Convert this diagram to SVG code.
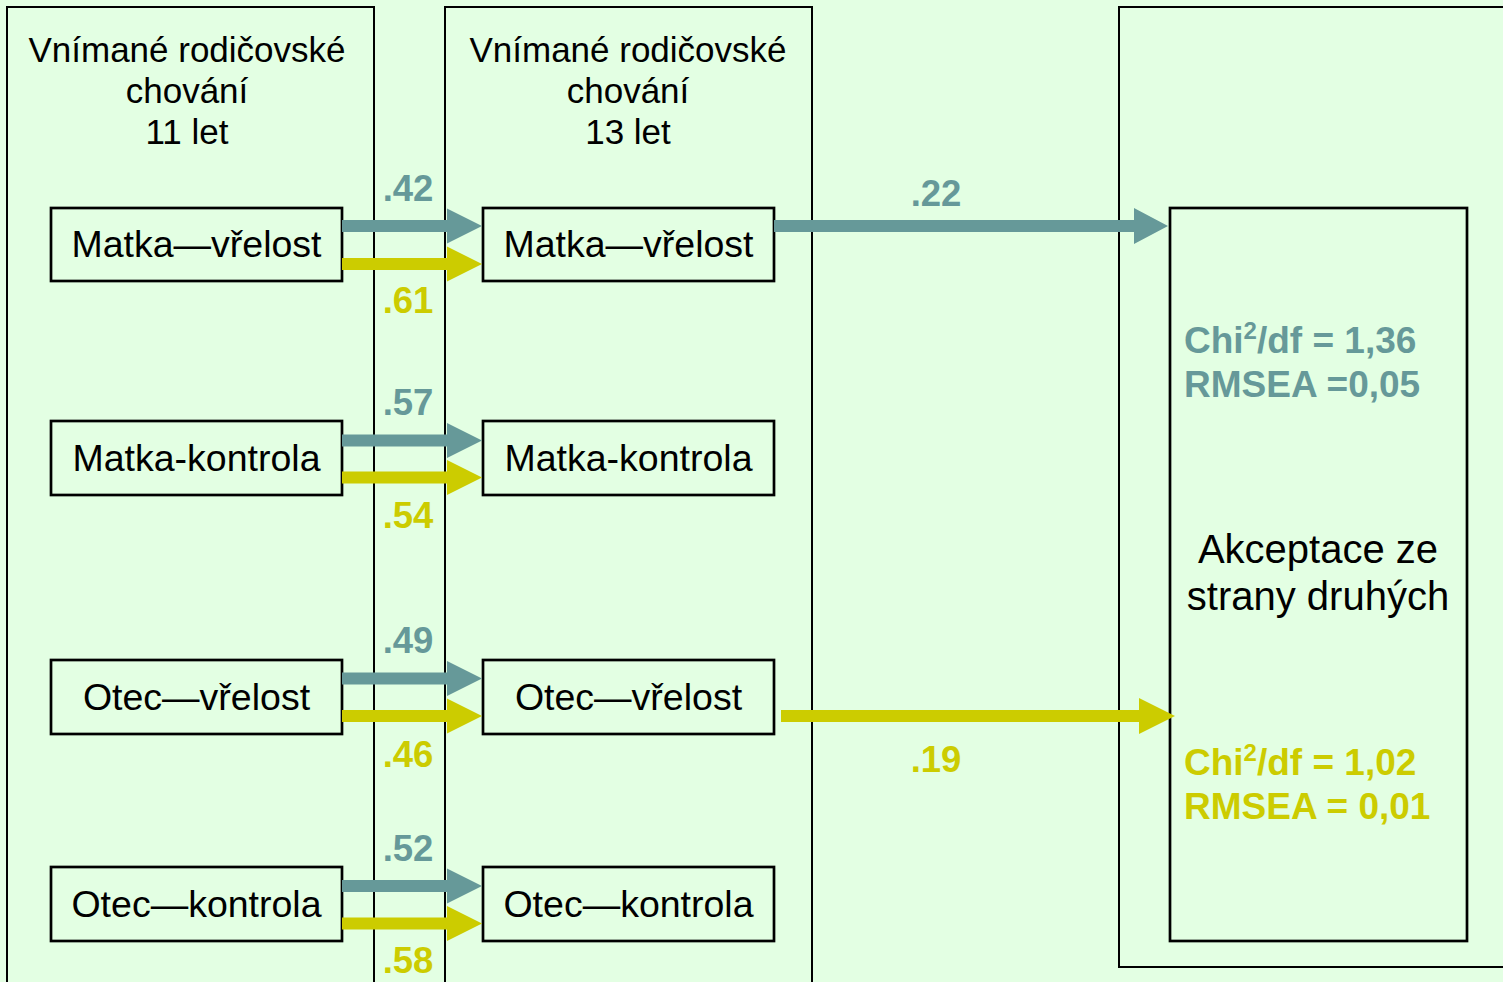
<svg xmlns="http://www.w3.org/2000/svg" width="1503" height="982" viewBox="0 0 1503 982">
<style>
.bg{fill:#E3FFE3}
.col{fill:none;stroke:#000;stroke-width:2}
.box{fill:#E3FFE3;stroke:#000;stroke-width:2.7}
.t{font-family:"Liberation Sans",Arial,sans-serif;fill:#000;text-anchor:middle}
.title{font-size:35px}
.node{font-size:37.5px}
.lab{font-family:"Liberation Sans",Arial,sans-serif;font-weight:bold;font-size:36.5px;text-anchor:middle}
.stat{font-family:"Liberation Sans",Arial,sans-serif;font-weight:bold;font-size:37px}
.teal{fill:#669999}
.yel{fill:#CCCC00}
</style>
<rect class="bg" x="0" y="0" width="1503" height="982"/>

<g id="panel-11">
<path class="col" d="M7,995 V7 H374 V995"/>
<text class="t title" x="187" y="62">Vnímané rodičovské</text>
<text class="t title" x="187" y="103">chování</text>
<text class="t title" x="187" y="144">11 let</text>
</g>
<g id="panel-13">
<path class="col" d="M445,995 V7 H812 V995"/>
<text class="t title" x="628" y="62">Vnímané rodičovské</text>
<text class="t title" x="628" y="103">chování</text>
<text class="t title" x="628" y="144">13 let</text>
</g>
<g id="panel-outcome">
<path class="col" d="M1510,967 H1119 V7 H1510"/>
</g>

<g id="n11-mv"><rect class="box" x="51" y="208" width="291" height="73"/><text class="t node" x="196.5" y="257">Matka—vřelost</text></g>
<g id="n11-mk"><rect class="box" x="51" y="421" width="291" height="74"/><text class="t node" x="196.5" y="471">Matka-kontrola</text></g>
<g id="n11-ov"><rect class="box" x="51" y="660" width="291" height="74"/><text class="t node" x="196.5" y="710">Otec—vřelost</text></g>
<g id="n11-ok"><rect class="box" x="51" y="867" width="291" height="74"/><text class="t node" x="196.5" y="917">Otec—kontrola</text></g>

<g id="n13-mv"><rect class="box" x="483" y="208" width="291" height="73"/><text class="t node" x="628.5" y="257">Matka—vřelost</text></g>
<g id="n13-mk"><rect class="box" x="483" y="421" width="291" height="74"/><text class="t node" x="628.5" y="471">Matka-kontrola</text></g>
<g id="n13-ov"><rect class="box" x="483" y="660" width="291" height="74"/><text class="t node" x="628.5" y="710">Otec—vřelost</text></g>
<g id="n13-ok"><rect class="box" x="483" y="867" width="291" height="74"/><text class="t node" x="628.5" y="917">Otec—kontrola</text></g>

<g id="outcome">
<rect class="box" x="1170" y="208" width="297" height="733"/>
<text class="stat teal" x="1184" y="353">Chi<tspan font-size="24px" dy="-14">2</tspan><tspan dy="14">/df = 1,36</tspan></text>
<text class="stat teal" x="1184" y="397">RMSEA =0,05</text>
<text class="t" font-size="40px" x="1318" y="563">Akceptace ze</text>
<text class="t" font-size="40px" x="1318" y="610">strany druhých</text>
<text class="stat yel" x="1184" y="775">Chi<tspan font-size="24px" dy="-14">2</tspan><tspan dy="14">/df = 1,02</tspan></text>
<text class="stat yel" x="1184" y="819">RMSEA = 0,01</text>
</g>

<g id="connectors">
<polygon class="teal" points="342,220 447,220 447,208.5 482,226 447,243.5 447,232 342,232"/>
<polygon class="yel" points="342,258 447,258 447,246.5 482,264 447,281.5 447,270 342,270"/>
<polygon class="teal" points="342,434.5 447,434.5 447,423 482,440.5 447,458 447,446.5 342,446.5"/>
<polygon class="yel" points="342,471.5 447,471.5 447,460 482,477.5 447,495 447,483.5 342,483.5"/>
<polygon class="teal" points="342,672.5 447,672.5 447,661 482,678.5 447,696 447,684.5 342,684.5"/>
<polygon class="yel" points="342,710 447,710 447,698.5 482,716 447,733.5 447,722 342,722"/>
<polygon class="teal" points="342,880 447,880 447,868.5 482,886 447,903.5 447,892 342,892"/>
<polygon class="yel" points="342,917.5 447,917.5 447,906 482,923.5 447,941 447,929.5 342,929.5"/>
<polygon class="teal" points="774,220 1134,220 1134,208 1168,226 1134,244 1134,232 774,232"/>
<polygon class="yel" points="781,710 1139,710 1139,698 1175,716 1139,734 1139,722 781,722"/>
<text class="lab teal" x="408" y="201">.42</text>
<text class="lab yel" x="408" y="313">.61</text>
<text class="lab teal" x="408" y="415">.57</text>
<text class="lab yel" x="408" y="528">.54</text>
<text class="lab teal" x="408" y="653">.49</text>
<text class="lab yel" x="408" y="767">.46</text>
<text class="lab teal" x="408" y="861">.52</text>
<text class="lab yel" x="408" y="973">.58</text>
<text class="lab teal" x="936" y="206">.22</text>
<text class="lab yel" x="936" y="772">.19</text>
</g>
</svg>
